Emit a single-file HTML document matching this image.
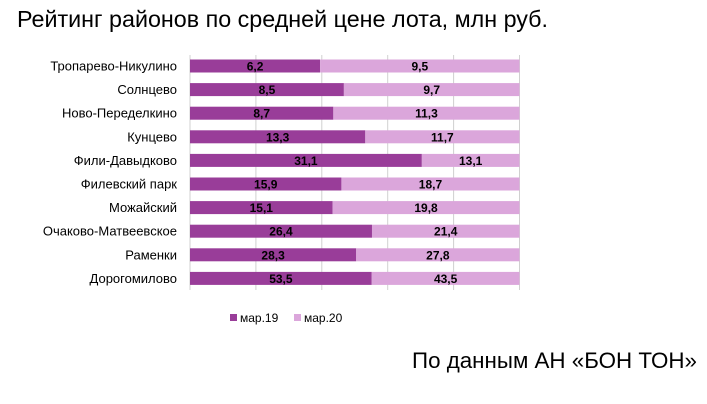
<!DOCTYPE html>
<html><head><meta charset="utf-8"><style>
html,body{margin:0;padding:0;background:#fff;}
svg{display:block;font-family:"Liberation Sans",sans-serif;}
</style></head><body>
<svg id="s" width="707" height="404" xmlns="http://www.w3.org/2000/svg">
<text x="17" y="27" font-size="23" fill="#000" textLength="531" lengthAdjust="spacingAndGlyphs">Рейтинг районов по средней цене лота, млн руб.</text>
<text x="412" y="368" font-size="22" fill="#000" textLength="285" lengthAdjust="spacingAndGlyphs">По данным АН «БОН ТОН»</text>
<g id="g"></g>
</svg>
<script>
var d=[["Тропарево-Никулино",6.2,9.5],["Солнцево",8.5,9.7],["Ново-Переделкино",8.7,11.3],["Кунцево",13.3,11.7],["Фили-Давыдково",31.1,13.1],["Филевский парк",15.9,18.7],["Можайский",15.1,19.8],["Очаково-Матвеевское",26.4,21.4],["Раменки",28.3,27.8],["Дорогомилово",53.5,43.5]];
var x0=190,W=329.5,h='';
for(var i=0;i<=5;i++){var x=x0+W*i/5;h+='<line x1="'+x+'" y1="55" x2="'+x+'" y2="290" stroke="#d0d0d0" stroke-width="1"/>';}
for(var i=0;i<d.length;i++){var c=66+i*23.6,a=d[i][1],b=d[i][2],w1=W*a/(a+b);
h+='<rect x="'+x0+'" y="'+(c-6.5)+'" width="'+w1+'" height="13" fill="#993d99"/>';
h+='<rect x="'+(x0+w1)+'" y="'+(c-6.5)+'" width="'+(W-w1)+'" height="13" fill="#dba6db"/>';
h+='<text x="177" y="'+(c+4.5)+'" font-size="13" text-anchor="end">'+d[i][0]+'</text>';
h+='<text x="'+(x0+w1/2)+'" y="'+(c+4.5)+'" font-size="12" font-weight="bold" text-anchor="middle">'+String(a).replace(".",",")+'</text>';
h+='<text x="'+(x0+w1+(W-w1)/2)+'" y="'+(c+4.5)+'" font-size="12" font-weight="bold" text-anchor="middle">'+String(b).replace(".",",")+'</text>';}
h+='<rect x="230" y="314" width="7" height="7" fill="#993d99"/><text x="240" y="322" font-size="12">мар.19</text>';
h+='<rect x="294" y="314" width="7" height="7" fill="#dba6db"/><text x="304" y="322" font-size="12">мар.20</text>';
document.getElementById('g').innerHTML=h;
</script>
</body></html>
